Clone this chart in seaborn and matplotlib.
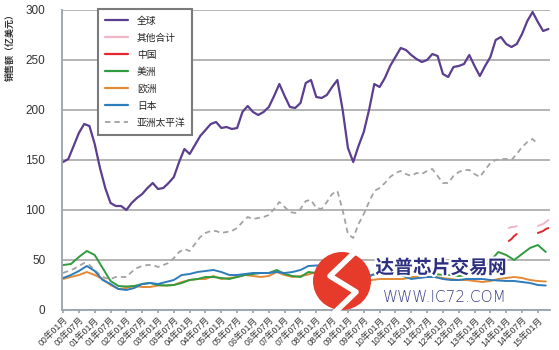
import numpy as np
import pandas as pd
import matplotlib
matplotlib.use("Agg")
import matplotlib.pyplot as plt
import seaborn as sns
from matplotlib.lines import Line2D
from matplotlib.patches import Circle
import matplotlib.patheffects as pe

# ---------------- data (month index 0 = 2000-01) ----------------
tick_labels = [f"{y:02d}年{m:02d}月" for y in range(0, 16) for m in (1, 7)][:31]

global_months = list(range(0, 185, 2))
global_sales = [148, 151, 164, 177, 186, 184, 166, 142, 122, 107,
                104, 104, 100, 107, 112, 116, 122, 127, 121, 122,
                127, 133, 148, 161, 156, 165, 174, 180, 186, 188,
                182, 183, 181, 182, 198, 204, 198, 195, 198, 203,
                214, 226, 214, 203, 202, 207, 227, 230, 213, 212,
                215, 223, 230, 200, 162, 148, 164, 178, 200, 226,
                223, 232, 244, 253, 262, 260, 255, 251, 248, 250,
                256, 254, 236, 233, 243, 244, 246, 255, 244, 234,
                244, 253, 270, 273, 266, 263, 266, 276, 289, 298,
                288, 279, 281]

apac_months = list(range(0, 181, 2))
apac_sales = [37, 39, 41, 44, 47, 45, 40, 35, 32, 31,
              33, 33, 33, 38, 42, 44, 45, 45, 43, 45,
              47, 52, 58, 61, 59, 66, 73, 77, 79, 79,
              77, 78, 79, 82, 88, 93, 91, 92, 93, 95,
              101, 108, 103, 98, 97, 101, 109, 110, 102, 101,
              108, 116, 119, 100, 76, 72, 86, 96, 108, 119,
              122, 127, 133, 137, 139, 136, 134, 137, 136, 139,
              141, 134, 127, 127, 134, 138, 140, 140, 136, 133,
              140, 147, 150, 151, 151, 150, 156, 163, 168, 171,
              166]

region_months = list(range(0, 184, 3))
americas_sales = [45, 46, 53, 59, 55, 42, 29, 24, 23.5, 24,
                  26, 27, 25, 24.5, 25, 27, 30, 31, 33, 33,
                  32, 31, 33, 35, 36, 37, 37, 40, 36, 34,
                  33, 38, 37, 37, 38, 36, 30, 26, 30, 35,
                  37, 38, 39, 38, 37, 37, 36, 36, 35, 35,
                  34, 35, 38, 40, 49, 58, 55, 50, 56, 62,
                  65, 58]
europe_sales = [31, 33, 35, 38, 35, 31, 25, 21, 22, 24,
                23, 23, 24.5, 24.5, 25, 28, 30, 31, 31, 34,
                31, 32, 33, 35, 34, 33, 34, 38, 35, 33,
                34, 35.5, 38, 37, 36, 34, 31, 27, 28, 30,
                31, 31, 31, 31, 33, 33, 33, 33, 32, 31,
                30, 30, 29, 28, 29, 31, 32, 33, 32, 30,
                29, 28.5]
japan_sales = [32, 35, 39, 44, 39, 30, 26, 21, 20, 22,
               26, 27, 26, 28, 30, 35, 36, 38, 39, 40,
               38, 35, 35, 36, 37, 37, 37, 38, 37, 38,
               40, 44, 44.5, 44.5, 44.5, 40, 30, 26, 30, 35,
               37, 37, 36, 34, 31, 32, 33, 33, 31, 30,
               30, 31, 31, 31, 30, 29.5, 29, 29, 28, 27,
               25, 24.5]

china_months_a = [169, 170, 171, 172]
china_sales_a = [69, 71, 74, 76]
china_months_b = [180, 181, 182, 183, 184]
china_sales_b = [77, 78, 79, 81, 82]
other_months_a = [169, 170, 171, 172]
other_sales_a = [82, 83, 83, 84]
other_months_b = [180, 181, 182, 183, 184]
other_sales_b = [84, 85, 86, 88, 90]

series_names = ["全球", "其他合计", "中国", "美洲", "欧洲", "日本", "亚洲太平洋"]
colors = {"全球": "#5b3e8e", "其他合计": "#f0b6c6", "中国": "#e2262c",
          "美洲": "#2f9b3e", "欧洲": "#e38a36", "日本": "#2f7cbc",
          "亚洲太平洋": "#a3a3a3"}

# ---------------- style ----------------
sns.set_theme(style="white")
plt.rcParams["font.family"] = ["Liberation Sans", "Noto Sans CJK SC"]

fig = plt.figure(figsize=(5.59, 3.5), dpi=100)
ax = fig.add_axes([62 / 559, 40 / 350, (550 - 62) / 559, 300 / 350])

def draw(months, values, name, **kw):
    df = pd.DataFrame({"month": months, "value": values})
    sns.lineplot(data=df, x="month", y="value", ax=ax, color=colors[name],
                 legend=False, estimator=None, sort=False, **kw)

draw(apac_months, apac_sales, "亚洲太平洋", lw=1.3, dashes=False,
     linestyle=(0, (3, 2.2)))
draw(region_months, europe_sales, "欧洲", lw=1.4)
draw(region_months, americas_sales, "美洲", lw=1.4)
draw(region_months, japan_sales, "日本", lw=1.4)
draw(other_months_a, other_sales_a, "其他合计", lw=1.4)
draw(other_months_b, other_sales_b, "其他合计", lw=1.4)
draw(china_months_a, china_sales_a, "中国", lw=1.4)
draw(china_months_b, china_sales_b, "中国", lw=1.4)
draw(global_months, global_sales, "全球", lw=1.6)

ax.set_xlim(-0.4, 184.6)
ax.set_ylim(0, 300)
ax.set_yticks(range(0, 301, 50))
ax.yaxis.grid(True, color="#a8a8a8", lw=1.2)
ax.xaxis.grid(False)
ax.set_axisbelow(True)
ax.set_xticks(range(0, 181, 6))
ax.set_xticklabels(tick_labels, rotation=45, ha="right",
                   rotation_mode="anchor", fontsize=6.3, color="#333333")
ax.tick_params(axis="x", bottom=True, direction="out", length=2.5,
               color="#9aa4ae", pad=1.5)
ax.tick_params(axis="y", left=False, length=0, pad=12, labelsize=8.5,
               labelcolor="#333333")
ax.set_xlabel("")
ax.set_ylabel("")
for s in ("top", "right"):
    ax.spines[s].set_visible(False)
for s in ("left", "bottom"):
    ax.spines[s].set_color("#9aa4ae")
    ax.spines[s].set_linewidth(1.3)

fig.text(10 / 559, 1 - 45 / 350, "销售额（亿美元）", rotation=90,
         ha="center", va="center", fontsize=6.5, color="#333333",
         fontweight="bold")

# legend
handles = []
for n in series_names:
    if n == "亚洲太平洋":
        handles.append(Line2D([], [], color=colors[n], lw=1.3,
                              linestyle=(0, (3, 2.2))))
    else:
        handles.append(Line2D([], [], color=colors[n], lw=1.6))
leg = ax.legend(handles, series_names, loc="upper left",
                bbox_to_anchor=(98 / 559, 1 - 9 / 350),
                bbox_transform=fig.transFigure, borderaxespad=0,
                fontsize=7, frameon=True, fancybox=False,
                edgecolor="#7a7a7a", framealpha=1, handlelength=2.4,
                handletextpad=0.9, labelspacing=0.72, borderpad=0.7)
leg.get_frame().set_linewidth(1.5)
for t in leg.get_texts():
    t.set_color("#222222")

# watermark
inch = fig.dpi_scale_trans
fig.patches.append(Circle((3.42, 0.69), 0.29, transform=inch,
                          facecolor="#e63a2a", edgecolor="none", zorder=10))
zx = [3.55, 3.30, 3.56, 3.33]
zy = [0.98, 0.74, 0.58, 0.36]
fig.lines.append(Line2D(zx, zy, transform=inch, color="white", lw=4,
                        zorder=11))
fig.text(441 / 559, 1 - 268 / 350, "达普芯片交易网", ha="center",
         va="center", fontsize=13.5, fontweight="bold", color="#2c2f80",
         family=["Noto Sans CJK SC"], zorder=12,
         path_effects=[pe.withStroke(linewidth=3, foreground="white")])
fig.text(445 / 559, 1 - 298 / 350, "WWW.IC72.COM", ha="center",
         va="center", fontsize=11, fontweight="light", color="#3a3d8a",
         family=["DejaVu Sans"], zorder=12)

fig.savefig("out.png", dpi=100)
